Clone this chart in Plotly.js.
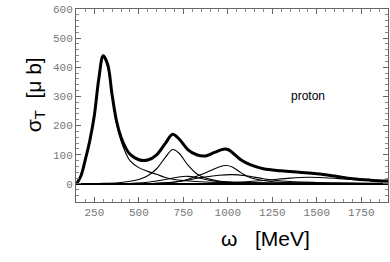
<!DOCTYPE html>
<html><head><meta charset="utf-8">
<script src="https://cdn.plot.ly/plotly-3.0.1.min.js"></script>
<style>html,body{margin:0;padding:0;background:#fff}#c{width:390px;height:262px}</style>
</head><body><div id="c"></div>
<script>
// Total cross section (thick)
const totalW = [150,175,200,225,250,275,300,325,350,375,400,425,450,500,550,600,650,690,725,775,825,875,925,975,1000,1025,1075,1125,1200,1300,1400,1500,1600,1700,1800,1900];
const totalS = [0,28,85,150,235,360,440,410,305,215,160,125,102,83,82,100,140,170,155,118,100,96,108,119,118,108,82,66,52,45,40,35,27,18,13,10];
// P33(1232)
const deltaW = [150,175,200,225,250,275,300,325,350,375,400,425,450,500,550,600,650,700,800,900,1000,1200,1500,1900];
const deltaS = [0,27,83,148,232,355,432,400,300,205,148,108,80,56,43,33,22,15,9,6,5,3,2,1];
// D13(1520)
const d13W = [150,300,400,500,550,600,650,690,725,775,825,875,950,1100,1400,1900];
const d13S = [0,2,5,15,28,52,92,118,106,65,35,20,10,5,2,1];
// F15(1680)
const f15W = [150,600,750,800,850,900,950,990,1025,1075,1125,1200,1300,1500,1900];
const f15S = [0,2,12,21,32,45,58,63,58,38,22,12,6,3,1];
// S11(1535)
const s11W = [150,400,550,650,725,775,825,900,1000,1200,1900];
const s11S = [0,1,6,15,24,26,22,12,6,3,1];
// broad state near 1000 MeV
const brdW = [150,600,750,850,950,1025,1100,1200,1300,1500,1900];
const brdS = [0,2,10,22,30,32,28,18,10,5,2];
// high-lying state near 1450 MeV
const hiW = [150,800,1000,1200,1350,1450,1550,1700,1900];
const hiS = [0,1,4,12,20,23,21,15,10];

const xTickVals = [250,500,750,1000,1250,1500,1750];
const yTickVals = [0,100,200,300,400,500,600];

const thin = {color:'#000', width:1.1, shape:'spline', smoothing:1};
const traces = [
  {x:deltaW,y:deltaS},{x:d13W,y:d13S},{x:f15W,y:f15S},{x:s11W,y:s11S},{x:brdW,y:brdS},{x:hiW,y:hiS}
].map(t=>Object.assign(t,{type:'scatter',mode:'lines',line:thin,hoverinfo:'skip'}));
traces.push({x:totalW,y:totalS,type:'scatter',mode:'lines',line:{color:'#000',width:3,shape:'spline',smoothing:1}});

const tickFont = {family:'Liberation Mono, monospace', size:11, color:'#777'};
const layout = {
  width:390, height:262, showlegend:false,
  margin:{l:76,r:2,t:9,b:60},
  paper_bgcolor:'#fff', plot_bgcolor:'#fff',
  xaxis:{range:[147,1900], tickvals:xTickVals, ticks:'inside', ticklen:5, tickcolor:'#666',
    showline:true, linecolor:'#666', linewidth:1, mirror:'allticks', showgrid:false, zeroline:false,
    tickfont:tickFont, minor:{dtick:50, tick0:0, ticks:'inside', ticklen:3, tickcolor:'#888'}},
  yaxis:{range:[-62,600], tickvals:yTickVals, ticks:'inside', ticklen:5, tickcolor:'#666',
    showline:true, linecolor:'#666', linewidth:1, mirror:'allticks', showgrid:false,
    zeroline:true, zerolinecolor:'#000', zerolinewidth:2.5,
    tickfont:tickFont, minor:{dtick:20, tick0:0, ticks:'inside', ticklen:3, tickcolor:'#888'}},
  annotations:[
    {text:'σ<sub>T</sub>  [μ b]', xref:'paper', yref:'paper', x:-0.131, y:0.554, xanchor:'center', yanchor:'middle', textangle:-90,
      showarrow:false, font:{family:'Liberation Sans, Arial', size:21, color:'#000'}},
    {text:'ω   [MeV]', xref:'paper', yref:'paper', x:0.606, y:-0.19, xanchor:'center', yanchor:'middle',
      showarrow:false, font:{family:'Liberation Sans, Arial', size:21, color:'#000'}},
    {text:'proton', xref:'x', yref:'y', x:1450, y:300, showarrow:false,
      font:{family:'Liberation Sans, Arial', size:12, color:'#000'}}
  ]
};
Plotly.newPlot('c', traces, layout, {displayModeBar:false, staticPlot:true});
</script></body></html>
